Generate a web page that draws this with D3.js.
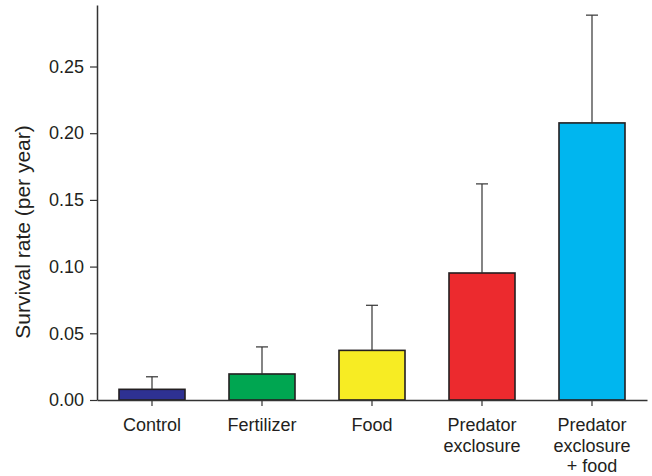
<!DOCTYPE html>
<html>
<head>
<meta charset="utf-8">
<script src="https://cdn.jsdelivr.net/npm/d3@7"></script>
<style>
  html, body { margin: 0; padding: 0; background: #fff; }
  svg { display: block; font-family: "Liberation Sans", Arial, Helvetica, sans-serif; }
</style>
</head>
<body>
<svg id="chart" width="652" height="476"></svg>
<script>
const categories = ["Control", "Fertilizer", "Food", "Predator exclosure", "Predator exclosure + food"];
const categoryLines = [["Control"], ["Fertilizer"], ["Food"], ["Predator", "exclosure"], ["Predator", "exclosure", "+ food"]];
const survival = [0.008, 0.0195, 0.0372, 0.0952, 0.2077];
const errorUpper = [0.0174, 0.0398, 0.0710, 0.1620, 0.2885];
const barColors = ["#2e3192", "#00a651", "#f7ec23", "#ec2a2e", "#00b6ef"];
const yTicks = [0, 0.05, 0.10, 0.15, 0.20, 0.25];
const yTitle = "Survival rate (per year)";

const svg = d3.select("#chart");
const mLeft = 97, mRight = 647, mTop = 5, mBottom = 400;
const ink = "#231f20";

const x = d3.scaleBand().domain(categories).range([mLeft, mRight]).paddingInner(0.4).paddingOuter(0.2);
const y = d3.scaleLinear().domain([0, 0.2961]).range([mBottom, mTop]);

// bars
svg.append("g").selectAll("rect").data(categories).join("rect")
  .attr("x", d => x(d))
  .attr("y", (d, i) => y(survival[i]))
  .attr("width", x.bandwidth())
  .attr("height", (d, i) => y(0) - y(survival[i]))
  .attr("fill", (d, i) => barColors[i])
  .attr("stroke", ink)
  .attr("stroke-width", 1.6);

// error bars
const eb = svg.append("g").attr("stroke", "#333").attr("stroke-width", 1.2);
categories.forEach((c, i) => {
  const cx = x(c) + x.bandwidth() / 2;
  eb.append("line").attr("x1", cx).attr("x2", cx).attr("y1", y(survival[i])).attr("y2", y(errorUpper[i]));
  eb.append("line").attr("x1", cx - 6).attr("x2", cx + 6).attr("y1", y(errorUpper[i])).attr("y2", y(errorUpper[i]));
});

// y axis
const yAxis = svg.append("g").attr("transform", `translate(${mLeft},0)`)
  .call(d3.axisLeft(y).tickValues(yTicks).tickFormat(d3.format(".2f")).tickSize(7).tickSizeOuter(0).tickPadding(6));
yAxis.select(".domain").attr("stroke", "#333").attr("stroke-width", 1.5);
yAxis.selectAll(".tick line").attr("stroke", "#333").attr("stroke-width", 1.2);
yAxis.selectAll(".tick text").attr("font-size", 18).attr("fill", ink).attr("font-family", "Liberation Sans, Arial, sans-serif");

// x axis
const xAxis = svg.append("g").attr("transform", `translate(0,${mBottom})`)
  .call(d3.axisBottom(x).tickSize(6).tickSizeOuter(0).tickFormat(""));
xAxis.select(".domain").attr("stroke", "#333").attr("stroke-width", 1.5);
xAxis.selectAll(".tick line").attr("stroke", "#333").attr("stroke-width", 1.2);
xAxis.selectAll(".tick text").remove();
xAxis.selectAll(".tick").each(function(d, i) {
  const t = d3.select(this).append("text")
    .attr("text-anchor", "middle")
    .attr("font-size", 18)
    .attr("fill", ink)
    .attr("font-family", "Liberation Sans, Arial, sans-serif");
  categoryLines[i].forEach((line, j) => {
    t.append("tspan").attr("x", 0).attr("y", 31 + j * 20.5).text(line);
  });
});

// y title
svg.append("text")
  .attr("transform", `translate(30, 232) rotate(-90)`)
  .attr("text-anchor", "middle")
  .attr("font-size", 21)
  .attr("fill", ink)
  .text(yTitle);
</script>
</body>
</html>
